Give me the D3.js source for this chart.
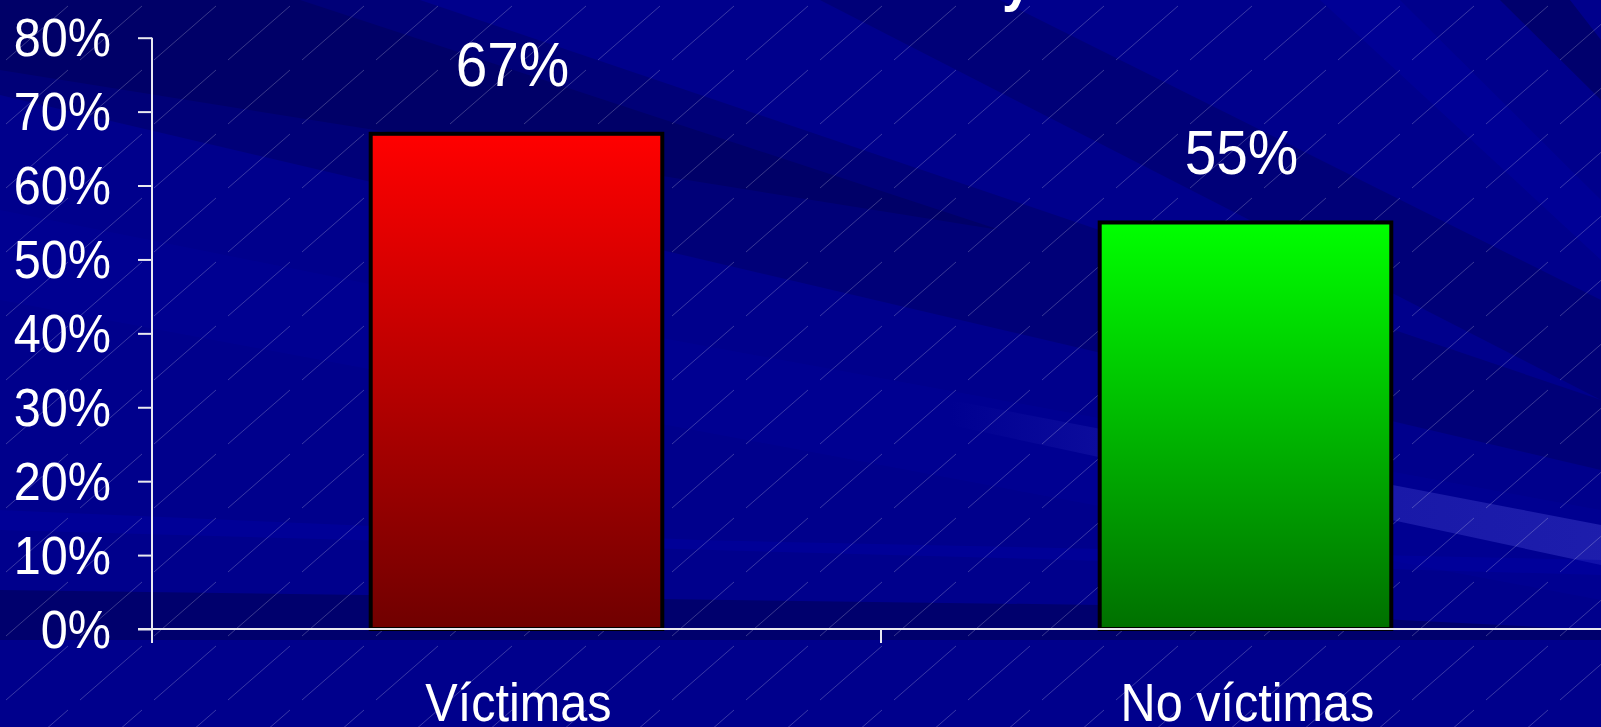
<!DOCTYPE html>
<html>
<head>
<meta charset="utf-8">
<script src="https://cdn.jsdelivr.net/npm/d3@7/dist/d3.min.js"></script>
<style>
  html, body { margin: 0; padding: 0; background: #00008c; overflow: hidden; }
  svg { display: block; }
  text { font-family: "Liberation Sans", Arial, sans-serif; fill: #fff; }
</style>
</head>
<body>
<div id="chart"></div>
<script>
// chart data
var categories = ["Víctimas", "No víctimas"];
var values = [0.67, 0.55];
var labels = ["67%", "55%"];
var barTop = ["#ff0000", "#00ff00"];
var barBottom = ["#700000", "#007000"];
var yTicks = [0, 0.1, 0.2, 0.3, 0.4, 0.5, 0.6, 0.7, 0.8];

var width = 1601,
    height = 727;

var svg = d3.select("#chart").append("svg")
    .attr("width", width)
    .attr("height", height);

var defs = svg.append("defs");

// hatch pattern like the slide template
var pat = defs.append("pattern")
    .attr("id", "hatch")
    .attr("patternUnits", "userSpaceOnUse")
    .attr("width", 74)
    .attr("height", 64);
pat.append("line")
    .attr("x1", 6).attr("y1", 60)
    .attr("x2", 68).attr("y2", 6)
    .attr("stroke", "#ffffff")
    .attr("stroke-opacity", 0.22)
    .attr("stroke-width", 1);

categories.forEach(function(c, i) {
    var g = defs.append("linearGradient")
        .attr("id", "grad" + i)
        .attr("x1", 0).attr("y1", 0)
        .attr("x2", 0).attr("y2", 1);
    g.append("stop").attr("offset", "0%").attr("stop-color", barTop[i]);
    g.append("stop").attr("offset", "100%").attr("stop-color", barBottom[i]);
});

var fade = defs.append("linearGradient")
    .attr("id", "fade")
    .attr("x1", 0).attr("y1", 0).attr("x2", 1).attr("y2", 0);
fade.append("stop").attr("offset", "0%").attr("stop-color", "#2a2ab8").attr("stop-opacity", 0);
fade.append("stop").attr("offset", "40%").attr("stop-color", "#2a2ab8").attr("stop-opacity", 0.5);
fade.append("stop").attr("offset", "100%").attr("stop-color", "#2a2ab8").attr("stop-opacity", 0.7);

// background
var bg = svg.append("g");
bg.append("rect").attr("width", width).attr("height", height).attr("fill", "#00008c");
// streaks
bg.append("polygon").attr("points", "0,0 420,0 1601,400 1601,470 0,95").attr("fill", "#000068").attr("opacity", 0.55);
bg.append("polygon").attr("points", "0,0 300,0 1000,230 0,70").attr("fill", "#000058").attr("opacity", 0.5);
bg.append("polygon").attr("points", "820,0 1000,0 1601,300 1601,400").attr("fill", "#00006a").attr("opacity", 0.6);
bg.append("polygon").attr("points", "1320,0 1400,0 1601,200 1601,260").attr("fill", "#0000b0").attr("opacity", 0.3);
bg.append("polygon").attr("points", "1500,0 1570,0 1601,40 1601,100").attr("fill", "#000060").attr("opacity", 0.7);
bg.append("polygon").attr("points", "0,210 400,290 1601,510 1601,600 0,300").attr("fill", "#0000a0").attr("opacity", 0.3);
bg.append("polygon").attr("points", "950,400 1601,525 1601,565 950,425").attr("fill", "url(#fade)");
bg.append("polygon").attr("points", "0,590 1100,605 1601,630 1601,640 0,640").attr("fill", "#000060").attr("opacity", 0.7);
bg.append("polygon").attr("points", "0,510 700,540 1601,560 1601,575 0,530").attr("fill", "#0000a8").attr("opacity", 0.4);
bg.append("rect").attr("width", width).attr("height", height).attr("fill", "url(#hatch)");

// partial title descender at the top edge
svg.append("text")
    .attr("transform", "translate(1002,0) scale(0.9,1)")
    .style("font-size", "60px")
    .style("font-weight", "bold")
    .text("y");

var x = d3.scaleBand()
    .domain(categories)
    .range([152, 1610])
    .paddingInner(0.6)
    .paddingOuter(0.3);

var y = d3.scaleLinear()
    .domain([0, 0.8])
    .range([629, 37.7]);

// bars
var bars = svg.append("g");
bars.selectAll("rect")
    .data(values)
    .enter()
    .append("rect")
    .attr("x", function(d, i) { return x(categories[i]); })
    .attr("y", function(d) { return y(d); })
    .attr("width", x.bandwidth())
    .attr("height", function(d) { return y(0) - y(d); })
    .attr("fill", function(d, i) { return "url(#grad" + i + ")"; })
    .attr("stroke", "#000")
    .attr("stroke-width", 4);

// value labels
svg.append("g").selectAll("text")
    .data(values)
    .enter()
    .append("text")
    .attr("transform", function(d, i) {
        return "translate(" + (x(categories[i]) + x.bandwidth() / 2 - 4) + "," + (y(d) - 48) + ") scale(0.9,1)";
    })
    .attr("text-anchor", "middle")
    .style("font-size", "63px")
    .text(function(d, i) { return labels[i]; });

// y axis
var yAxis = d3.axisLeft(y)
    .tickValues(yTicks)
    .tickSize(14)
    .tickFormat(d3.format(".0%"));

var yg = svg.append("g")
    .attr("transform", "translate(152,0)")
    .call(yAxis);
yg.select(".domain").remove();
yg.selectAll(".tick line").attr("stroke", "#e8e8f0").attr("stroke-width", 2);
yg.selectAll(".tick text")
    .attr("x", null).attr("dy", null)
    .attr("transform", "translate(-41,18) scale(0.9,1)")
    .attr("fill", "#fff")
    .style("font-size", "54px")
    .style("font-family", "'Liberation Sans', Arial, sans-serif");
yg.append("line")
    .attr("x1", 0).attr("x2", 0)
    .attr("y1", y(0.8)).attr("y2", 643)
    .attr("stroke", "#e8e8f0").attr("stroke-width", 2);

// x axis: baseline and a tick between the categories
var xg = svg.append("g");
xg.append("line")
    .attr("x1", 138).attr("x2", 1610)
    .attr("y1", y(0)).attr("y2", y(0))
    .attr("stroke", "#e8e8f0").attr("stroke-width", 2);
xg.selectAll(".xtick")
    .data(categories.slice(1))
    .enter()
    .append("line")
    .attr("class", "xtick")
    .attr("x1", function(d) { return x(d) - x.step() * x.paddingOuter(); })
    .attr("x2", function(d) { return x(d) - x.step() * x.paddingOuter(); })
    .attr("y1", y(0)).attr("y2", 643)
    .attr("stroke", "#e8e8f0").attr("stroke-width", 2);

xg.selectAll(".xlabel")
    .data(categories)
    .enter()
    .append("text")
    .attr("class", "xlabel")
    .attr("transform", function(d) {
        return "translate(" + (x(d) + x.bandwidth() / 2 + 2) + ",721) scale(0.9,1)";
    })
    .attr("text-anchor", "middle")
    .style("font-size", "54px")
    .text(function(d) { return d; });
</script>
</body>
</html>
